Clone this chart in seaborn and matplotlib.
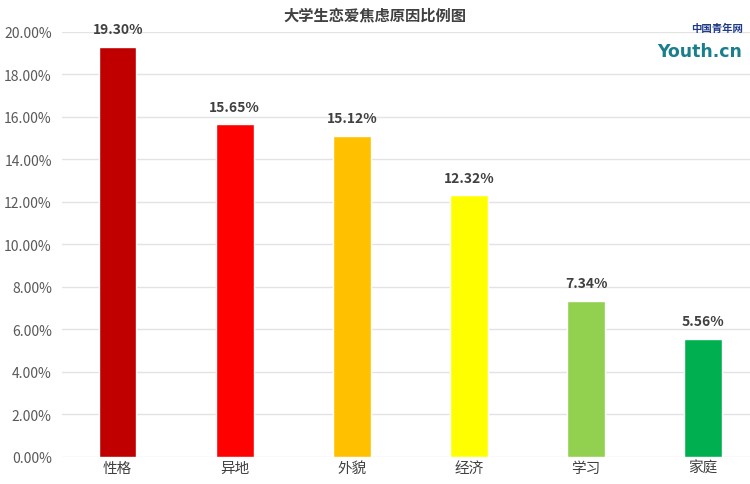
import matplotlib
matplotlib.use("Agg")
import matplotlib.pyplot as plt
import seaborn as sns
import pandas as pd

# --- data ---
categories = ["性格", "异地", "外貌", "经济", "学习", "家庭"]
values = [19.30, 15.65, 15.12, 12.32, 7.34, 5.56]
colors = ["#C00000", "#FF0000", "#FFC000", "#FFFF00", "#92D050", "#00B050"]
yticks = [0, 2, 4, 6, 8, 10, 12, 14, 16, 18, 20]

df = pd.DataFrame({"reason": categories, "pct": values})

sns.set_theme(style="white")
plt.rcParams["font.family"] = ["Noto Sans CJK SC", "DejaVu Sans"]

fig = plt.figure(figsize=(7.5, 4.85), dpi=100)
ax = fig.add_axes([0.082, 0.0557, 0.918, 0.8763])

sns.barplot(data=df, x="reason", y="pct", hue="reason", palette=colors,
            legend=False, width=0.32, ax=ax, saturation=1)

ax.set_ylim(0, 20)
ax.set_xlim(-0.48, 5.4)
ax.set_yticks(yticks)
ax.set_yticklabels([f"{v:.2f}%" for v in yticks], color="#595959", fontsize=10)
ax.tick_params(axis="x", colors="#404040", labelsize=10.5, length=0, pad=3)
ax.tick_params(axis="y", length=0, pad=7)
ax.yaxis.grid(True, color="#E3E3E3", linewidth=1)
ax.set_axisbelow(True)
for s in ax.spines.values():
    s.set_visible(False)
ax.set_xlabel("")
ax.set_ylabel("")

for i, v in enumerate(values):
    ax.text(i, v + 0.5, f"{v:.2f}%", ha="center", va="bottom",
            fontsize=10, fontweight="bold", color="#404040")

fig.text(0.5, 0.968, "大学生恋爱焦虑原因比例图", ha="center", va="center",
         fontsize=11, fontweight="bold", color="#404040")

# logo text
fig.text(0.99, 0.94, "中国青年网", ha="right", va="center", fontsize=7.5,
         fontweight="bold", color="#1F3A8A")
fig.text(0.99, 0.893, "Youth.cn", ha="right", va="center", fontsize=12.5,
         fontweight="bold", color="#1A7F8C", family=["DejaVu Sans"])

fig.savefig("out.png", dpi=100)
